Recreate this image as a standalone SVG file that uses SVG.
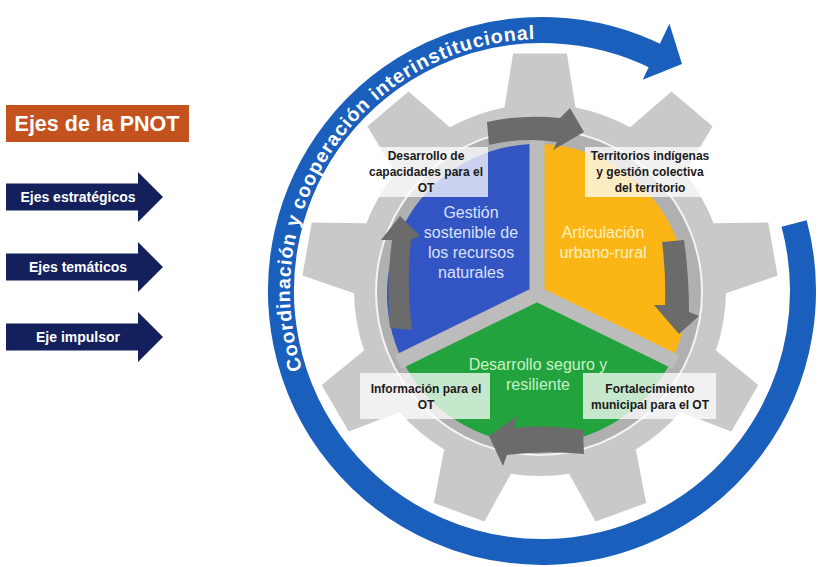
<svg xmlns="http://www.w3.org/2000/svg" width="818" height="567" viewBox="0 0 818 567">
<style>
 .f{font-family:"Liberation Sans",Arial,sans-serif}
 .lbl{font-weight:bold;font-size:12px;fill:#1a1a1a;text-anchor:middle}
 .sec{font-size:16px;text-anchor:middle}
 .leg{font-weight:bold;font-size:14px;fill:#ffffff;text-anchor:middle}
 .navy{fill:#13205c}
 .box{fill:#ffffff;fill-opacity:0.74}
 .cyc{fill:#6b6b6b}
 .rt{font-size:19.5px;font-weight:bold;fill:#ffffff;letter-spacing:0.95px}
</style>
<defs>
 <path id="ringText" d="M308.3,385.4 A252,252 0 0 1 668,72.8"/>
</defs>
<rect width="818" height="567" fill="#ffffff"/>

<g id="legend-title">
 <rect x="6" y="105" width="183" height="37" fill="#c4521f"/>
 <text class="f" x="97" y="131" font-size="21.5" font-weight="bold" fill="#ffffff" text-anchor="middle">Ejes de la PNOT</text>
</g>
<g id="legend-estrategicos">
 <path class="navy" d="M6,183.5 H138 V172 L163,197 L138,222 V210.5 H6 Z"/>
 <text class="f leg" x="78" y="202">Ejes estratégicos</text>
</g>
<g id="legend-tematicos">
 <path class="navy" d="M6,253.5 H138 V242 L163,267 L138,292 V280.5 H6 Z"/>
 <text class="f leg" x="78" y="272">Ejes temáticos</text>
</g>
<g id="legend-impulsor">
 <path class="navy" d="M6,323.5 H138 V312 L163,337 L138,362 V350.5 H6 Z"/>
 <text class="f leg" x="78" y="342">Eje impulsor</text>
</g>

<g id="gear">
 <path fill="#c9c9c9" d="M504.5,107.4 L513.1,53.5 L566.9,53.5 L575.5,107.4 A186,186 0 0 1 630.2,127.3 L671.4,91.5 L712.6,126.2 L684.5,173.0 A186,186 0 0 1 713.6,223.3 L768.2,222.4 L777.6,275.5 L726.0,293.3 A186,186 0 0 1 715.9,350.6 L758.3,384.9 L731.3,431.6 L680.4,412.0 A186,186 0 0 1 635.8,449.4 L646.2,503.0 L595.6,521.4 L569.1,473.7 A186,186 0 0 1 510.9,473.7 L484.4,521.4 L433.8,503.0 L444.2,449.4 A186,186 0 0 1 399.6,412.0 L348.7,431.6 L321.7,384.9 L364.1,350.6 A186,186 0 0 1 354.0,293.3 L302.4,275.5 L311.8,222.4 L366.4,223.3 A186,186 0 0 1 395.5,173.0 L367.4,126.2 L408.6,91.5 L449.8,127.3 A186,186 0 0 1 504.5,107.4 Z"/>
 <circle cx="539" cy="292" r="163" fill="#b0b0b0" stroke="#f4f4f4" stroke-width="2"/>
</g>

<g id="sector-gestion">
 <path fill="#3354c3" d="M537,294 L537,144 A150,150 0 0 0 402.2,359.8 Z"/>
</g>
<g id="sector-articulacion">
 <path fill="#fbb616" d="M537,294 L537,144 A150,150 0 0 1 671.8,359.8 Z"/>
</g>
<g id="sector-desarrollo">
 <path fill="#22a33d" d="M537,294 L671.8,359.8 A150,150 0 0 1 402.2,359.8 Z"/>
</g>
<path d="M537,294 V140 M537,294 L676,362 M537,294 L398,362" stroke="#bcbcbc" stroke-width="15" fill="none"/>

<g id="connectors">
 <path d="M794.1,223.5 A261,261 0 1 1 660.5,58.4" fill="none" stroke="#1b5fbd" stroke-width="26"/>
 <polygon points="669.4,23.8 682,64 642.7,79.8" fill="#1b5fbd"/>
 <path class="cyc" d="M487,122 Q522,114 560,118 L570,108 L584,132 L553,150 L557,142 Q522,137 489,145 Z"/>
 <path class="cyc" d="M662,242 L684,240 Q689,275 689,312 L699,316 L679,334 L654,305 L665,305 Q666,272 662,242 Z"/>
 <path class="cyc" d="M583,430 Q548,424 514,428 L517,416 L489,436 L503,466 L507,455 Q545,450 584,454 Z"/>
 <path class="cyc" d="M390,328 Q386,285 392,240 L381,240 L400,216 L420,236 L411,240 Q406,285 412,330 Z"/>
</g>

<g id="ring-label">
 <text class="f rt"><textPath href="#ringText" startOffset="17">Coordinación y</textPath></text>
 <text class="f rt"><textPath href="#ringText" startOffset="178.7">cooperación</textPath></text>
 <text class="f rt"><textPath href="#ringText" startOffset="311.6">interinstitucional</textPath></text>
</g>

<g id="label-capacidades">
 <rect class="box" x="362" y="147" width="126" height="50"/>
 <text class="f lbl" x="426" y="160">Desarrollo de</text>
 <text class="f lbl" x="426" y="176">capacidades para el</text>
 <text class="f lbl" x="426" y="192">OT</text>
</g>
<g id="label-territorios">
 <rect class="box" x="585" y="147" width="130" height="50"/>
 <text class="f lbl" x="650" y="160">Territorios indígenas</text>
 <text class="f lbl" x="650" y="176">y gestión colectiva</text>
 <text class="f lbl" x="650" y="192">del territorio</text>
</g>
<g id="label-informacion">
 <rect class="box" x="360" y="373" width="130" height="46"/>
 <text class="f lbl" x="426" y="393">Información para el</text>
 <text class="f lbl" x="426" y="409">OT</text>
</g>
<g id="label-fortalecimiento">
 <rect class="box" x="583" y="373" width="133" height="46"/>
 <text class="f lbl" x="650" y="393">Fortalecimiento</text>
 <text class="f lbl" x="650" y="409">municipal para el OT</text>
</g>

<g id="text-gestion">
 <text class="f sec" fill="#dbe2ff" x="471" y="218">Gestión</text>
 <text class="f sec" fill="#dbe2ff" x="471" y="238">sostenible de</text>
 <text class="f sec" fill="#dbe2ff" x="471" y="258">los recursos</text>
 <text class="f sec" fill="#dbe2ff" x="471" y="278">naturales</text>
</g>
<g id="text-articulacion">
 <text class="f sec" fill="#fff0c2" x="603" y="238">Articulación</text>
 <text class="f sec" fill="#fff0c2" x="603" y="258">urbano-rural</text>
</g>
<g id="text-desarrollo">
 <text class="f sec" fill="#c8f2c8" x="538" y="370">Desarrollo seguro y</text>
 <text class="f sec" fill="#c8f2c8" x="538" y="390">resiliente</text>
</g>
</svg>
